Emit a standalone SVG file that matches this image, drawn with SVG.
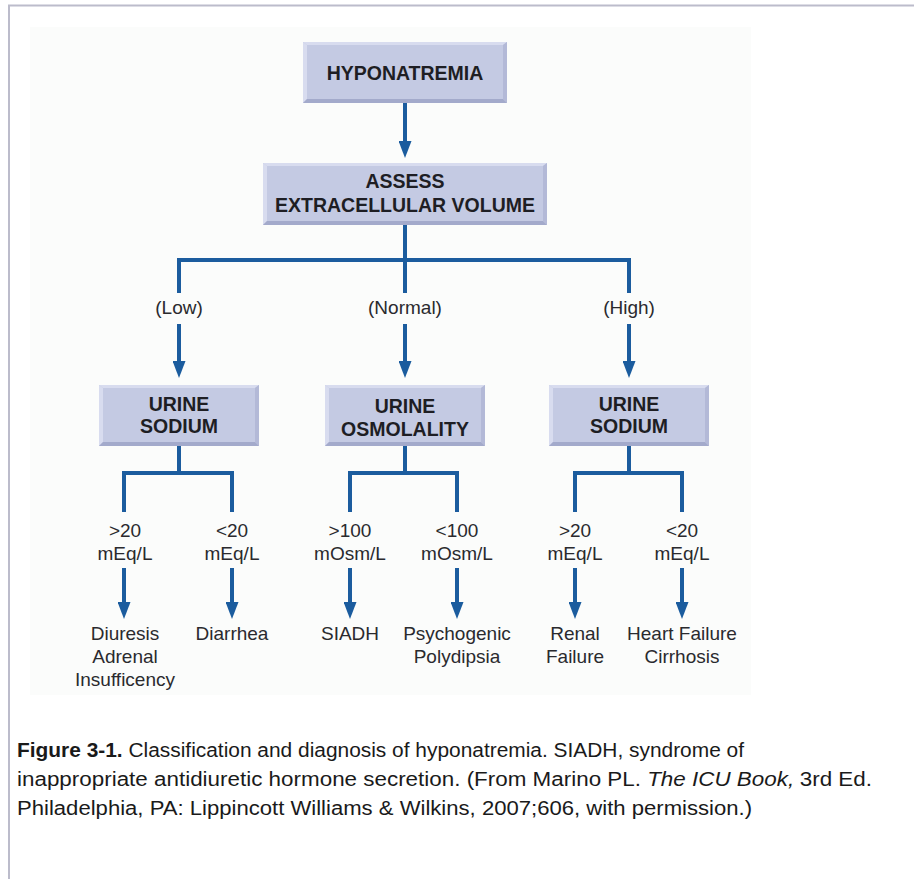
<svg xmlns="http://www.w3.org/2000/svg" width="914" height="879" viewBox="0 0 914 879">
  <defs>
    <style>
      .frame { fill: none; stroke: #bcbccb; stroke-width: 2; }
      .panel { fill: #fbfcfb; }
      .face { fill: #c4cae3; }
      .hi { fill: #d8dcef; }
      .lo { fill: #a3aacb; }
      .side { fill: #b3b9d7; }
      .btxt { font-family: "Liberation Sans", Arial, sans-serif; font-weight: bold; font-size: 19.5px; fill: #1e1e24; text-anchor: middle; }
      .lbl { font-family: "Liberation Sans", Arial, sans-serif; font-size: 19px; fill: #2a2a2e; text-anchor: middle; }
      .wire { fill: none; stroke: #1b5c9e; stroke-width: 4; stroke-linejoin: miter; stroke-linecap: butt; }
      .arrow { fill: none; stroke: #1b5c9e; stroke-width: 4; marker-end: url(#head); }
      .cap { font-family: "Liberation Sans", Arial, sans-serif; font-size: 20px; fill: #1a1a1a; }
    </style>
    <marker id="head" viewBox="0 -6.5 17 13" markerUnits="userSpaceOnUse" markerWidth="17" markerHeight="13" refX="5" refY="0" orient="auto">
      <path d="M0,-6.5 L17,0 L0,6.5 Z" fill="#1b5c9e"/>
    </marker>
  </defs>

  <rect width="914" height="879" fill="#ffffff"/>
  <path class="frame" d="M9,879 V5.5 H914"/>
  <rect class="panel" x="30" y="27" width="721" height="668"/>

  <!-- connectors -->
  <g id="connectors">
    <path class="arrow" d="M405,103 V146"/>
    <path class="wire" d="M405,225 V293 M179,293 V260 H629 V293"/>
    <path class="arrow" d="M179,324 V366"/>
    <path class="arrow" d="M405,324 V366"/>
    <path class="arrow" d="M629,324 V366"/>
    <path class="wire" d="M179,446 V473 M124,512 V473 H232 V512"/>
    <path class="wire" d="M405,446 V473 M350,512 V473 H457 V512"/>
    <path class="wire" d="M629,446 V473 M575,512 V473 H682 V512"/>
    <path class="arrow" d="M124,568 V607"/>
    <path class="arrow" d="M232,568 V607"/>
    <path class="arrow" d="M350,568 V607"/>
    <path class="arrow" d="M457,568 V607"/>
    <path class="arrow" d="M575,568 V607"/>
    <path class="arrow" d="M682,568 V607"/>
  </g>

  <!-- boxes -->
  <g id="hyponatremia">
    <rect class="face" x="303" y="42" width="204" height="61"/>
    <polygon class="hi" points="303,42 507,42 503,45 307,45"/>
    <polygon class="hi" points="303,42 307,45 307,99 303,103"/>
    <polygon class="side" points="507,42 507,103 503,99 503,45"/>
    <polygon class="lo" points="303,103 507,103 503,99 307,99"/>
    <text class="btxt" x="405" y="80" font-size="19">HYPONATREMIA</text>
  </g>

  <g id="assess">
    <rect class="face" x="263" y="163" width="284" height="62"/>
    <polygon class="hi" points="263,163 547,163 543,166 267,166"/>
    <polygon class="hi" points="263,163 267,166 267,221 263,225"/>
    <polygon class="side" points="547,163 547,225 543,221 543,166"/>
    <polygon class="lo" points="263,225 547,225 543,221 267,221"/>
    <text class="btxt" x="405" y="188">ASSESS</text>
    <text class="btxt" x="405" y="212">EXTRACELLULAR VOLUME</text>
  </g>

  <g id="urine-sodium-low">
    <rect class="face" x="99" y="385" width="160" height="61"/>
    <polygon class="hi" points="99,385 259,385 255,388 103,388"/>
    <polygon class="hi" points="99,385 103,388 103,442 99,446"/>
    <polygon class="side" points="259,385 259,446 255,442 255,388"/>
    <polygon class="lo" points="99,446 259,446 255,442 103,442"/>
    <text class="btxt" x="179" y="411">URINE</text>
    <text class="btxt" x="179" y="433">SODIUM</text>
  </g>

  <g id="urine-osmolality">
    <rect class="face" x="325" y="385" width="160" height="61"/>
    <polygon class="hi" points="325,385 485,385 481,388 329,388"/>
    <polygon class="hi" points="325,385 329,388 329,442 325,446"/>
    <polygon class="side" points="485,385 485,446 481,442 481,388"/>
    <polygon class="lo" points="325,446 485,446 481,442 329,442"/>
    <text class="btxt" x="405" y="413">URINE</text>
    <text class="btxt" x="405" y="436">OSMOLALITY</text>
  </g>

  <g id="urine-sodium-high">
    <rect class="face" x="549" y="385" width="160" height="61"/>
    <polygon class="hi" points="549,385 709,385 705,388 553,388"/>
    <polygon class="hi" points="549,385 553,388 553,442 549,446"/>
    <polygon class="side" points="709,385 709,446 705,442 705,388"/>
    <polygon class="lo" points="549,446 709,446 705,442 553,442"/>
    <text class="btxt" x="629" y="411">URINE</text>
    <text class="btxt" x="629" y="433">SODIUM</text>
  </g>

  <!-- branch labels -->
  <g id="labels">
    <text class="lbl" x="179" y="314">(Low)</text>
    <text class="lbl" x="405" y="314">(Normal)</text>
    <text class="lbl" x="629" y="314">(High)</text>

    <text class="lbl" x="125" y="537">&gt;20</text>
    <text class="lbl" x="125" y="560">mEq/L</text>
    <text class="lbl" x="232" y="537">&lt;20</text>
    <text class="lbl" x="232" y="560">mEq/L</text>
    <text class="lbl" x="350" y="537">&gt;100</text>
    <text class="lbl" x="350" y="560">mOsm/L</text>
    <text class="lbl" x="457" y="537">&lt;100</text>
    <text class="lbl" x="457" y="560">mOsm/L</text>
    <text class="lbl" x="575" y="537">&gt;20</text>
    <text class="lbl" x="575" y="560">mEq/L</text>
    <text class="lbl" x="682" y="537">&lt;20</text>
    <text class="lbl" x="682" y="560">mEq/L</text>
  </g>

  <!-- outcomes -->
  <g id="outcome-diuresis">
    <text class="lbl" x="125" y="640">Diuresis</text>
    <text class="lbl" x="125" y="663">Adrenal</text>
    <text class="lbl" x="125" y="686">Insufficency</text>
  </g>
  <g id="outcome-diarrhea">
    <text class="lbl" x="232" y="640">Diarrhea</text>
  </g>
  <g id="outcome-siadh">
    <text class="lbl" x="350" y="640">SIADH</text>
  </g>
  <g id="outcome-polydipsia">
    <text class="lbl" x="457" y="640">Psychogenic</text>
    <text class="lbl" x="457" y="663">Polydipsia</text>
  </g>
  <g id="outcome-renal">
    <text class="lbl" x="575" y="640">Renal</text>
    <text class="lbl" x="575" y="663">Failure</text>
  </g>
  <g id="outcome-heart">
    <text class="lbl" x="682" y="640">Heart Failure</text>
    <text class="lbl" x="682" y="663">Cirrhosis</text>
  </g>

  <!-- caption -->
  <g id="caption">
    <text class="cap" x="17" y="757" textLength="727" lengthAdjust="spacingAndGlyphs"><tspan font-weight="bold">Figure 3-1.</tspan> Classification and diagnosis of hyponatremia. SIADH, syndrome of</text>
    <text class="cap" x="17" y="786" textLength="855" lengthAdjust="spacingAndGlyphs">inappropriate antidiuretic hormone secretion. (From Marino PL. <tspan font-style="italic">The ICU Book,</tspan><tspan dx="5">3rd Ed.</tspan></text>
    <text class="cap" x="17" y="815" textLength="735" lengthAdjust="spacingAndGlyphs">Philadelphia, PA: Lippincott Williams &amp; Wilkins, 2007;606, with permission.)</text>
  </g>
</svg>
